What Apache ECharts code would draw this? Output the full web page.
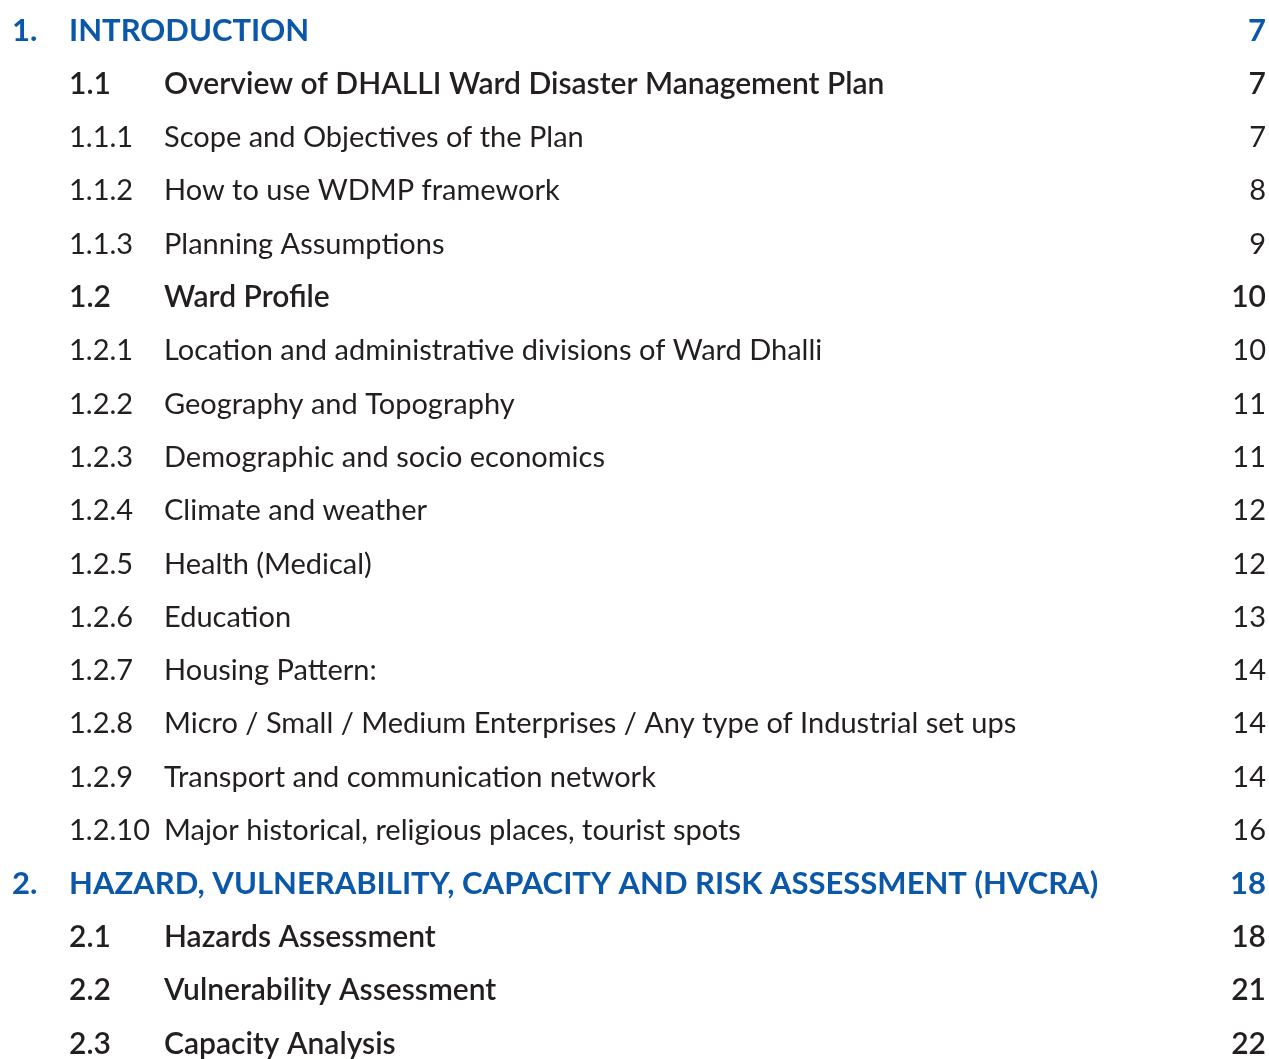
<!DOCTYPE html>
<html>
<head>
<meta charset="utf-8">
<script src="https://cdn.jsdelivr.net/npm/echarts@6/dist/echarts.min.js"></script>
<style>
  html, body { margin: 0; padding: 0; background: #fff; }
  #chart { width: 1269px; height: 1059px; }
</style>
</head>
<body>
<div id="chart"></div>
<script>
// Table of contents rows
const sectionNumbers = ['1.', '1.1', '1.1.1', '1.1.2', '1.1.3', '1.2', '1.2.1', '1.2.2', '1.2.3', '1.2.4',
    '1.2.5', '1.2.6', '1.2.7', '1.2.8', '1.2.9', '1.2.10', '2.', '2.1', '2.2', '2.3'];
const sectionTitles = [
    'INTRODUCTION',
    'Overview of DHALLI Ward Disaster Management Plan',
    'Scope and Objectives of the Plan',
    'How to use WDMP framework',
    'Planning Assumptions',
    'Ward Profile',
    'Location and administrative divisions of Ward Dhalli',
    'Geography and Topography',
    'Demographic and socio economics',
    'Climate and weather',
    'Health (Medical)',
    'Education',
    'Housing Pattern:',
    'Micro / Small / Medium Enterprises / Any type of Industrial set ups',
    'Transport and communication network',
    'Major historical, religious places, tourist spots',
    'HAZARD, VULNERABILITY, CAPACITY AND RISK ASSESSMENT (HVCRA)',
    'Hazards Assessment',
    'Vulnerability Assessment',
    'Capacity Analysis'
];
const pageNumbers = [7, 7, 7, 8, 9, 10, 10, 11, 11, 12, 12, 13, 14, 14, 14, 16, 18, 18, 21, 22];
const sectionLevels = [1, 2, 3, 3, 3, 2, 3, 3, 3, 3, 3, 3, 3, 3, 3, 3, 1, 2, 2, 2];

const rowKeys = sectionNumbers.map((n, i) => 'r' + i);

// column positions (x axis runs in page pixels)
const numberX = { 1: 12, 2: 69, 3: 69 };
const titleX = { 1: 69, 2: 164, 3: 164 };
const pageX = 1266;

const levelStyle = {
    1: { color: '#0b57a8', fontWeight: 'bold', fontSize: 31 },
    2: { color: '#231f20', fontWeight: 600, fontSize: 30 },
    3: { color: '#231f20', fontWeight: 'normal', fontSize: 29 }
};

const fontFamily = 'Lato';

const data = [];
sectionNumbers.forEach((num, i) => {
    const lv = sectionLevels[i];
    const st = levelStyle[lv];
    const base = {
        color: st.color, fontWeight: st.fontWeight, fontFamily: fontFamily, fontSize: st.fontSize,
        position: 'inside', verticalAlign: 'middle', opacity: 1
    };
    data.push({ value: [numberX[lv], rowKeys[i]], label: Object.assign({}, base, { align: 'left', formatter: num }) });
    data.push({ value: [titleX[lv], rowKeys[i]], label: Object.assign({}, base, { align: 'left', formatter: sectionTitles[i] }) });
    data.push({ value: [pageX, rowKeys[i]], label: Object.assign({}, base, { align: 'right', formatter: String(pageNumbers[i]) }) });
});

const myChart = echarts.init(document.getElementById('chart'));

const option = {
    backgroundColor: '#ffffff',
    animation: false,
    grid: { left: 0, right: 0, top: 31, bottom: 15 },
    xAxis: { type: 'value', min: 0, max: 1269, show: false },
    yAxis: {
        type: 'category',
        data: rowKeys,
        inverse: true,
        boundaryGap: false,
        show: false
    },
    series: [{
        type: 'scatter',
        symbolSize: 0,
        silent: true,
        itemStyle: { opacity: 1 },
        emphasis: { disabled: true },
        label: { show: true },
        data: data
    }]
};

myChart.setOption(option);
window.addEventListener('resize', () => myChart.resize());
</script>
</body>
</html>
